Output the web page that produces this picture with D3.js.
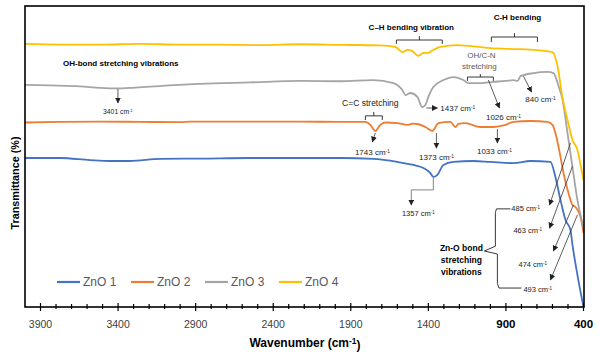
<!DOCTYPE html>
<html><head><meta charset="utf-8">
<script src="https://cdn.jsdelivr.net/npm/d3@7"></script>
<style>html,body{margin:0;padding:0;background:#fff;} svg{display:block;font-family:"Liberation Sans",Arial,sans-serif;}</style>
</head><body><svg id="c" width="600" height="356"></svg>
<script>
// ---------- data (wavenumber cm-1, transmittance %) ----------
const seriesNames = ["ZnO 1", "ZnO 2", "ZnO 3", "ZnO 4"];
const seriesColors = ["#4472c4", "#ed7d31", "#a5a5a5", "#ffc000"];

const zno1 = [[4000,49.5],[3774,49.5],[3581,48.8],[3452,48.5],[3323,48.5],[3129,49.2],[2871,49.3],[2548,49.5],[2226,49.5],[1968,49.5],[1755,49.2],[1600,48.2],[1497,47.2],[1432,46.2],[1387,44.5],[1368,43.2],[1342,43.9],[1303,47.2],[1239,48.2],[1110,48.5],[1000,48.2],[852,47.8],[742,48.5],[613,48.2],[581,43.2],[548,35.5],[516,28.9],[484,25.6],[471,20.6],[439,10.6],[400,0]];
const zno2 = [[4000,61.3],[3774,61.5],[3516,61.6],[3258,61.5],[3000,61.4],[2935,61.6],[2742,61.6],[2484,61.6],[2226,61.6],[1968,61.5],[1806,61.5],[1774,60.5],[1742,58.5],[1710,60.5],[1677,61.3],[1600,61.1],[1535,60.5],[1503,60.9],[1471,60.8],[1419,59.8],[1374,58.5],[1335,61.1],[1258,61.5],[1226,59.8],[1206,60.8],[1161,61.1],[1065,59.8],[981,59.8],[903,60.5],[852,61.5],[742,61.8],[632,61.5],[600,60.5],[581,57.8],[548,49.8],[529,44.5],[497,37.9],[471,33.9],[452,33.2],[419,29.9],[400,24.6]];
const zno3 = [[4000,73.8],[3839,73.6],[3645,73.3],[3516,72.8],[3406,72.6],[3290,72.9],[3129,73.4],[2871,74.1],[2548,74.6],[2226,75.1],[1968,75.0],[1755,75.4],[1626,74.4],[1568,72.1],[1548,70.4],[1516,71.1],[1471,69.8],[1439,66.4],[1419,67.1],[1400,69.8],[1368,73.1],[1303,75.4],[1239,76.4],[1174,75.4],[1142,74.4],[1065,74.4],[981,74.8],[903,75.1],[852,75.4],[826,75.1],[806,76.7],[723,77.7],[632,78.1],[594,77.7],[561,73.4],[535,68.8],[503,57.8],[471,46.5],[439,35.5],[400,26.5]];
const zno4 = [[4000,87.4],[3774,87.2],[3516,87.2],[3258,87.4],[3000,87.2],[2742,87.2],[2484,87.0],[2226,87.3],[1968,87.1],[1710,86.9],[1613,86.4],[1568,84.7],[1535,85.4],[1503,85.0],[1465,83.4],[1432,84.4],[1406,84.4],[1368,85.4],[1323,86.4],[1213,87.0],[1000,86.0],[852,85.7],[742,85.5],[600,84.7],[568,80.1],[535,69.4],[503,62.1],[471,55.5],[439,52.2],[419,47.2],[400,42.2]];
const seriesData = [zno1, zno2, zno3, zno4];

const majorTicks = [3900, 3400, 2900, 2400, 1900, 1400, 900, 400];
const boldTicks = [900, 400];
const minorTicks = d3.range(3900, 399, -100).filter(v => !majorTicks.includes(v));

// ---------- layout ----------
const svg = d3.select("#c");
const L = 25, R = 584, T = 6, B = 307;
const x = d3.scaleLinear().domain([4000, 400]).range([L, 583.5]);
const y = d3.scaleLinear().domain([0, 100]).range([B, T]);
const P = (w, t) => [x(w), y(t)];

// arrow marker
svg.append("defs").append("marker")
  .attr("id", "ah").attr("viewBox", "0 0 10 10").attr("refX", 9).attr("refY", 5)
  .attr("markerWidth", 6).attr("markerHeight", 6).attr("markerUnits", "userSpaceOnUse")
  .attr("orient", "auto")
  .append("path").attr("d", "M0,0L10,5L0,10Z").attr("fill", "#222");

// series
const line = d3.line().x(d => x(d[0])).y(d => y(d[1])).curve(d3.curveMonotoneX);
svg.append("g").selectAll("path").data(seriesData).join("path")
  .attr("d", line).attr("fill", "none")
  .attr("stroke", (d, i) => seriesColors[i]).attr("stroke-width", 1.8)
  .attr("stroke-linejoin", "round");

// frame
svg.append("rect").attr("x", L).attr("y", T).attr("width", R - L).attr("height", B - T)
  .attr("fill", "none").attr("stroke", "#000").attr("stroke-width", 1.6);

// ticks
const tg = svg.append("g").attr("stroke", "#000").attr("stroke-width", 1.2);
tg.selectAll("line.maj").data(majorTicks).join("line").attr("class", "maj")
  .attr("x1", d => x(d)).attr("x2", d => x(d)).attr("y1", B - 4).attr("y2", B + 4);
tg.selectAll("line.min").data(minorTicks).join("line").attr("class", "min")
  .attr("x1", d => x(d)).attr("x2", d => x(d)).attr("y1", B - 3).attr("y2", B + 2);
svg.append("g").selectAll("text").data(majorTicks).join("text")
  .attr("x", d => x(d)).attr("y", 324).attr("dy", "0.35em").attr("text-anchor", "middle")
  .attr("font-size", d => boldTicks.includes(d) ? 11.5 : 10.5)
  .attr("font-weight", d => boldTicks.includes(d) ? "bold" : "normal")
  .attr("fill", d => boldTicks.includes(d) ? "#000" : "#404040")
  .text(d => d);

// axis titles
const xt = svg.append("text").attr("x", 305).attr("y", 343).attr("dy", "0.35em")
  .attr("text-anchor", "middle").attr("font-size", 12).attr("font-weight", "bold").attr("fill", "#000");
xt.append("tspan").text("Wavenumber (cm");
xt.append("tspan").attr("dy", "-0.4em").attr("font-size", 8.5).text("-1");
xt.append("tspan").attr("dy", "0.4em").text(")");
svg.append("text").attr("transform", "translate(15,183) rotate(-90)").attr("dy", "0.35em")
  .attr("text-anchor", "middle").attr("font-size", 10.8).attr("font-weight", "bold").text("Transmittance (%)");

// legend
const legX = [57, 131, 205, 279];
const lg = svg.append("g");
seriesNames.forEach((n, i) => {
  lg.append("line").attr("x1", legX[i]).attr("x2", legX[i] + 23).attr("y1", 282).attr("y2", 282)
    .attr("stroke", seriesColors[i]).attr("stroke-width", 2.2);
  lg.append("text").attr("x", legX[i] + 26).attr("y", 282).attr("dy", "0.35em")
    .attr("font-size", 12).attr("fill", "#595959").text(n);
});

// ---------- annotations (in data coordinates) ----------
const ann = svg.append("g");
function wnLabel(num, w, t, size, anchor) {
  const [px, py] = P(w, t);
  const tx = ann.append("text").attr("x", px).attr("y", py).attr("dy", "0.35em")
    .attr("text-anchor", anchor || "middle").attr("font-size", size).attr("fill", "#222");
  tx.append("tspan").text(num + " cm");
  tx.append("tspan").attr("dy", "-0.45em").attr("font-size", size * 0.6).text("-1");
}
function txt(s, w, t, size, bold, color, anchor) {
  const [px, py] = P(w, t);
  ann.append("text").attr("x", px).attr("y", py).attr("dy", "0.35em")
    .attr("text-anchor", anchor || "middle").attr("font-size", size)
    .attr("font-weight", bold ? "bold" : "normal").attr("fill", color || "#000").text(s);
}
function arrow(pts, color) {
  ann.append("path").attr("d", d3.line()(pts.map(p => P(p[0], p[1]))))
    .attr("fill", "none").attr("stroke", color || "#333").attr("stroke-width", 0.8)
    .attr("marker-end", "url(#ah)");
}
function bracket(w1, w2, tTop, tLeg, wMid, tTick) {
  const pts = [[w1, tLeg], [w1, tTop], [w2, tTop], [w2, tLeg]].map(p => P(p[0], p[1]));
  ann.append("path").attr("d", d3.line()(pts)).attr("fill", "none").attr("stroke", "#222").attr("stroke-width", 0.9);
  ann.append("path").attr("d", d3.line()([P(wMid, tTop), P(wMid, tTick)])).attr("fill", "none").attr("stroke", "#222").attr("stroke-width", 0.9);
}

// OH stretching
txt("OH-bond stretching vibrations", 3755, 81.1, 8, true, "#000", "start");
arrow([[3401, 72.4], [3401, 67.8]]);
wnLabel("3401", 3401, 64.8, 6.8);

// C–H bending vibration
txt("C\u2013H bending vibration", 1510, 93.0, 8, true);
bracket(1606, 1310, 88.7, 87.4, 1458, 90.0);

// C-H bending
txt("C-H bending", 826, 96.3, 8, true);
bracket(994, 697, 89.7, 88.0, 845, 91.0);

// OH/C-N stretching
txt("OH/C-N", 1058, 83.7, 8, false, "#595959");
txt("stretching", 1071, 80.1, 8, false, "#595959");
bracket(1148, 981, 76.4, 75.1, 1065, 77.4);
arrow([[1013, 75.4], [942, 66.1]]);
wnLabel("1026", 916, 63.1, 8);

// 840
arrow([[787, 76.7], [735, 71.4]]);
wnLabel("840", 677, 69.1, 8);

// 1437
arrow([[1413, 66.1], [1342, 66.1]]);
wnLabel("1437", 1323, 66.1, 8, "start");

// C=C stretching
txt("C=C stretching", 1774, 67.8, 8.5, false, "#222");
bracket(1806, 1697, 63.5, 62.1, 1752, 64.8);
arrow([[1742, 57.8], [1761, 54.8]]);
wnLabel("1743", 1761, 51.5, 8);

// 1373
arrow([[1348, 57.8], [1348, 52.8]]);
wnLabel("1373", 1348, 49.8, 8);

// 1033
arrow([[955, 59.1], [955, 54.5]]);
wnLabel("1033", 974, 51.8, 8);

// 1357
arrow([[1368, 42.9], [1368, 38.9], [1510, 38.9], [1510, 33.9]], "#666");
wnLabel("1357", 1465, 31.2, 7.5);

// Zn-O bond stretching vibrations
txt("Zn-O bond", 1187, 19.6, 8.5, true);
txt("stretching", 1187, 15.6, 8.5, true);
txt("vibrations", 1187, 11.6, 8.5, true);
const brace = [[871, 32.6], [961, 32.6], [968, 31.4], [968, 20.2], [1039, 18.6], [955, 17.6], [955, 7.8], [945, 6.3], [800, 6.3]];
ann.append("path").attr("d", d3.line().curve(d3.curveLinear)(brace.map(p => P(p[0], p[1]))))
  .attr("fill", "none").attr("stroke", "#222").attr("stroke-width", 0.9);
wnLabel("485", 865, 32.9, 7.5, "start");
wnLabel("463", 852, 25.6, 7.5, "start");
wnLabel("474", 819, 14.3, 7.5, "start");
wnLabel("493", 787, 6.0, 7.5, "start");
arrow([[484, 54.5], [619, 33.9]]);
arrow([[471, 46.8], [619, 26.2]]);
arrow([[465, 33.9], [594, 18.6]]);
arrow([[439, 30.6], [613, 9.0]]);
</script></body></html>
